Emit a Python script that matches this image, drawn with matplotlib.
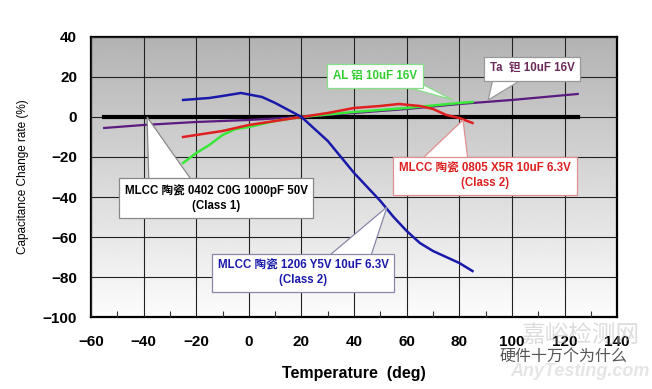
import numpy as np
import matplotlib
matplotlib.use("Agg")
import matplotlib.pyplot as plt
from matplotlib.ticker import MultipleLocator
from matplotlib.patches import Polygon

plt.rcParams['font.family'] = ['Liberation Sans', 'Noto Sans CJK SC', 'DejaVu Sans']

# data (temperature in deg, change in %)
ta_t = [-55, -40, -20, 0, 20, 40, 60, 80, 100, 125]
ta_v = [-5.5, -4, -2.5, -1.5, 0, 2, 4, 6.5, 8.5, 11.5]

y5v_t = [-25, -15, -10, -3, 5, 10, 20, 30, 40, 50, 55, 60, 65, 70, 80, 85]
y5v_v = [8.5, 9.5, 10.5, 12, 10, 7, 0, -12, -28, -42, -50, -57, -63, -67, -73, -77]

x5r_t = [-25, -10, 0, 20, 30, 40, 50, 57, 65, 70, 75, 80, 85]
x5r_v = [-10, -7, -4, 0, 2, 4.5, 5.5, 6.5, 5.5, 4, 1, -0.5, -3]

al_t = [-25, -20, -15, -10, -5, 0, 10, 20, 40, 60, 80, 85]
al_v = [-23, -18, -14, -9, -6, -5, -2, 0, 2.5, 4.5, 7, 7.5]

ref_t = [-55, 125]
ref_v = [0, 0]

xticks = list(range(-60, 141, 20))
yticks = list(range(-100, 41, 20))

fig = plt.figure(figsize=(6.52, 3.89), dpi=100)
ax = fig.add_axes([0.1396, 0.185, 0.807, 0.72])

# grey to white background
grad = np.linspace(0.99, 0.70, 256).reshape(-1, 1)
ax.imshow(grad, cmap='gray', vmin=0, vmax=1, extent=[0, 1, 0, 1], transform=ax.transAxes,
          aspect='auto', origin='lower', zorder=0)

ax.set_xlim(-60, 140)
ax.set_ylim(-100, 40)
ax.set_xticks(xticks)
ax.set_yticks(yticks)
ax.xaxis.set_minor_locator(MultipleLocator(10))
ax.grid(True, which='major', color='#222222', linewidth=0.8, zorder=1)
ax.set_axisbelow(False)
ax.tick_params(which='major', length=0, labelsize=11)
ax.tick_params(axis='x', pad=13)
ax.tick_params(axis='y', pad=10)
ax.tick_params(which='minor', direction='in', length=4, width=0.8, color='#333333')
ax.tick_params(axis='y', which='minor', length=0)
for lab in ax.get_xticklabels() + ax.get_yticklabels():
    lab.set_fontweight('bold')
for s in ax.spines.values():
    s.set_linewidth(1.6)
    s.set_color('black')

ax.plot(ref_t, ref_v, color='black', linewidth=3, zorder=3)
ax.plot(ta_t, ta_v, color='#5a1a80', linewidth=1.6, zorder=4)
ax.plot(al_t, al_v, color='#3ae83a', linewidth=1.8, zorder=4)
ax.plot(x5r_t, x5r_v, color='#e02020', linewidth=1.8, zorder=4)
ax.plot(y5v_t, y5v_v, color='#1a1aaa', linewidth=1.8, zorder=4)

ax.set_xlabel('Temperature  (deg)', fontsize=11.5, fontweight='bold', labelpad=12)
ax.set_ylabel('Capacitance Change rate (%)', fontsize=8.5, labelpad=10)


def callout(text, pos, tip, base, color, edge):
    # pointer triangle: tip on the curve, base hidden under the label box
    (x0, x1), yb = base
    tri = Polygon([(x0, yb), tip, (x1, yb)], closed=True, fc='white', ec=edge,
                  lw=0.9, zorder=6)
    ax.add_patch(tri)
    ax.text(pos[0], pos[1], text, ha='center', va='center', fontsize=8.3,
            fontweight='bold', color=color, linespacing=1.3, zorder=7,
            bbox=dict(boxstyle='square,pad=0.5', fc='white', ec=edge, lw=0.9))


callout('AL 铝 10uF 16V', (48, 20.5), (77.5, 8.5), ((54.5, 65), 17),
        '#33cc33', '#88dd88')
callout('Ta  钽 10uF 16V', (107.7, 24), (91, 8.5), ((93, 106), 20.5),
        '#6b2a5a', '#999999')
callout('MLCC 陶瓷 0805 X5R 10uF 6.3V\n(Class 2)', (89.8, -29.5), (81.4, -1.5),
        ((65, 83.3), -22), '#dd2020', '#e09090')
callout('MLCC 陶瓷 0402 C0G 1000pF 50V\n(Class 1)', (-12.5, -40.5), (-38.7, 0),
        ((-38, -21), -33), 'black', '#888888')
callout('MLCC 陶瓷 1206 Y5V 10uF 6.3V\n(Class 2)', (20.6, -78), (52.5, -45),
        ((29, 46), -71), '#1a1aaa', '#8888aa')

# watermark
fig.text(0.89, 0.135, '嘉峪检测网', fontsize=17, color='#bbbbbb', alpha=0.5,
         ha='center', va='center')
fig.text(0.89, 0.045, 'AnyTesting.com', fontsize=13, color='#cccccc', alpha=0.5,
         ha='center', va='center', style='italic', fontweight='bold')
fig.text(0.865, 0.085, '硬件十万个为什么', fontsize=11.5, color='#555555',
         ha='center', va='center')

fig.savefig('out.png', dpi=100)
